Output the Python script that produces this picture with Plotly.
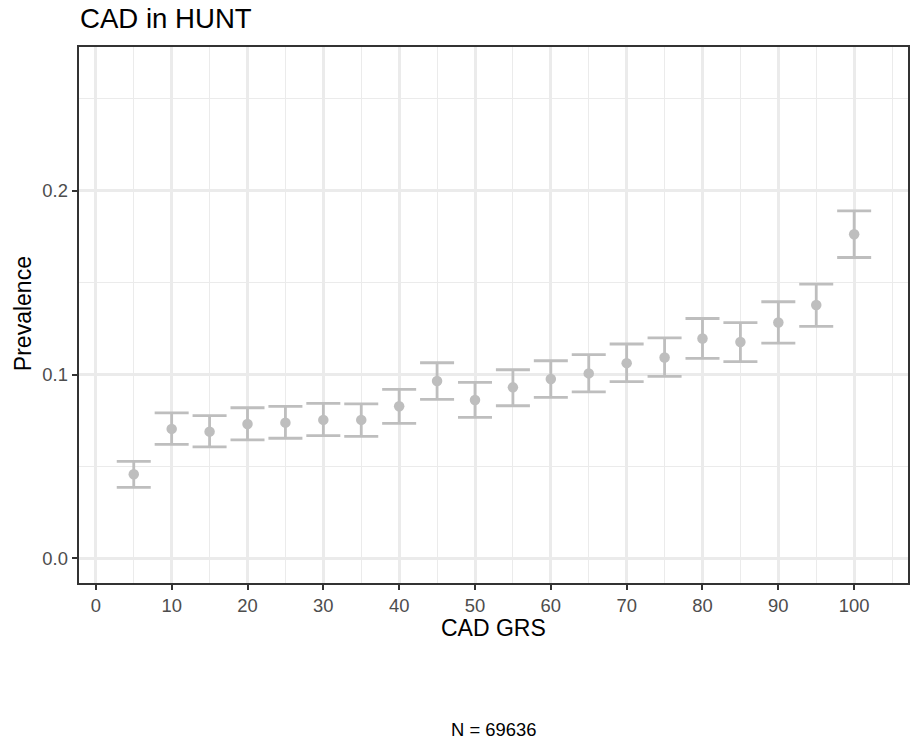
import plotly.graph_objects as go

# CAD genetic risk score percentile bins and observed prevalence with 95% CI
grs_bin = [5, 10, 15, 20, 25, 30, 35, 40, 45, 50, 55, 60, 65, 70, 75, 80, 85, 90, 95, 100]
prevalence = [0.0457, 0.0704, 0.0689, 0.0731, 0.0738, 0.0753, 0.0753, 0.0827, 0.0965, 0.0861,
              0.0930, 0.0976, 0.1006, 0.1062, 0.1093, 0.1196, 0.1177, 0.1283, 0.1378, 0.1764]
ci_lower = [0.0386, 0.0620, 0.0606, 0.0644, 0.0653, 0.0667, 0.0663, 0.0734, 0.0865, 0.0767,
            0.0830, 0.0876, 0.0905, 0.0961, 0.0990, 0.1088, 0.1070, 0.1171, 0.1262, 0.1637]
ci_upper = [0.0527, 0.0791, 0.0776, 0.0819, 0.0827, 0.0843, 0.0840, 0.0919, 0.1064, 0.0957,
            0.1026, 0.1075, 0.1108, 0.1166, 0.1200, 0.1305, 0.1283, 0.1396, 0.1492, 0.1891]
x_ticks = [0, 10, 20, 30, 40, 50, 60, 70, 80, 90, 100]
y_ticks = [0.0, 0.1, 0.2]
n_total = 69636

W, H = 911, 750
ML, MR, MT, MB = 79, 1, 47, 167
PW, PH = W - ML - MR, H - MT - MB

FONT = "Liberation Sans, Arial, Helvetica, sans-serif"
GREY = "#BEBEBE"
GRID = "#EBEBEB"
DARK = "#333333"


def px_x(X):
    return (X - ML) / PW


def px_y(Y):
    return (H - MB - Y) / PH


err_plus = [u - p for u, p in zip(ci_upper, prevalence)]
err_minus = [p - l for p, l in zip(prevalence, ci_lower)]

fig = go.Figure()
fig.add_trace(go.Scatter(
    x=grs_bin, y=prevalence, mode="markers",
    marker=dict(color=GREY, size=10.5, line=dict(width=0)),
    error_y=dict(type="data", symmetric=False, array=err_plus, arrayminus=err_minus,
                 color=GREY, thickness=2.8, width=17),
    showlegend=False, hoverinfo="x+y",
))

axis_common = dict(
    showline=True, linecolor=DARK, linewidth=1.8, mirror=True,
    ticks="outside", ticklen=5.5, tickwidth=2, tickcolor=DARK,
    tickfont=dict(family=FONT, size=18.4, color="#4D4D4D"),
    showgrid=True, gridcolor=GRID, gridwidth=2.6, zeroline=False,
)

fig.update_xaxes(
    range=[-2.22, 107.1], tickmode="array", tickvals=x_ticks,
    minor=dict(tickmode="linear", tick0=0, dtick=5, showgrid=True,
               gridcolor=GRID, gridwidth=1.3, ticks=""),
    **axis_common,
)
fig.update_yaxes(
    range=[-0.0135, 0.2783], tickmode="array", tickvals=y_ticks,
    ticktext=[f"{v:.1f}" for v in y_ticks],
    minor=dict(tickmode="linear", tick0=0, dtick=0.05, showgrid=True,
               gridcolor=GRID, gridwidth=1.3, ticks=""),
    **axis_common,
)

fig.update_layout(
    width=W, height=H,
    margin=dict(l=ML, r=MR, t=MT, b=MB, pad=0),
    paper_bgcolor="white", plot_bgcolor="white",
    font=dict(family=FONT, color="black"),
    annotations=[
        dict(text="CAD in HUNT", xref="paper", yref="paper",
             x=px_x(78), y=px_y(19), xanchor="left", yanchor="middle",
             showarrow=False, font=dict(size=27.6, color="black")),
        dict(text="CAD GRS", xref="paper", yref="paper",
             x=px_x(494.5), y=px_y(628), xanchor="center", yanchor="middle",
             showarrow=False, font=dict(size=23, color="black")),
        dict(text="Prevalence", xref="paper", yref="paper",
             x=px_x(23), y=px_y(314), xanchor="center", yanchor="middle",
             textangle=-90, showarrow=False, font=dict(size=23, color="black")),
        dict(text=f"N = {n_total}", xref="paper", yref="paper",
             x=px_x(494.5), y=px_y(729), xanchor="center", yanchor="middle",
             showarrow=False, font=dict(size=18.4, color="black")),
    ],
)

fig.write_html("out.html")
